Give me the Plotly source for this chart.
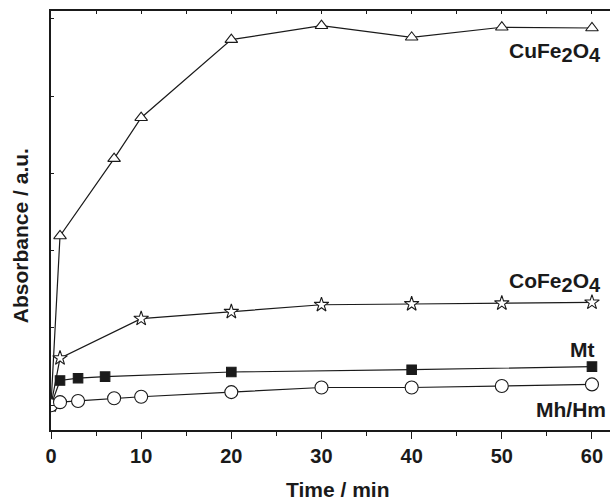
import plotly.graph_objects as go

# ---- data ----
t_cu = [0, 1, 7, 10, 20, 30, 40, 50, 60]
a_cu = [0.0, 0.219, 0.319, 0.372, 0.473, 0.491, 0.476, 0.489, 0.488]

t_co = [0, 1, 10, 20, 30, 40, 50, 60]
a_co = [0.0, 0.061, 0.112, 0.121, 0.130, 0.131, 0.132, 0.133]

t_mt = [0, 1, 3, 6, 20, 40, 60]
a_mt = [0.0, 0.032, 0.035, 0.037, 0.043, 0.046, 0.050]

t_mh = [0, 1, 3, 7, 10, 20, 30, 40, 50, 60]
a_mh = [0.0, 0.004, 0.0056, 0.009, 0.011, 0.017, 0.023, 0.023, 0.025, 0.027]

x_ticks = [0, 10, 20, 30, 40, 50, 60]
y_ticks = [0, 0.1, 0.2, 0.3, 0.4, 0.5]

FONT = "Liberation Sans, Arial, sans-serif"
INK = "#1a1a1a"
LW = 1.2

fig = go.Figure()

def add(t, a, symbol, size, fill):
    fig.add_trace(go.Scatter(
        x=t, y=a, mode="lines+markers",
        line=dict(color=INK, width=LW),
        marker=dict(symbol=symbol, size=size, color=fill,
                    line=dict(color=INK, width=1.1)),
        showlegend=False,
    ))

add(t_cu, a_cu, "triangle-up", 11, "white")
add(t_co, a_co, "star", 11, "white")
add(t_mt, a_mt, "square", 9.5, INK)
add(t_mh, a_mh, "circle", 13, "white")

xr = [0, 62]
yr = [-0.032, 0.510]

fig.update_layout(
    width=610, height=500,
    margin=dict(l=51, r=0, t=11, b=70),
    paper_bgcolor="white", plot_bgcolor="white",
    font=dict(family=FONT, color=INK),
    xaxis=dict(
        range=xr, showgrid=False, zeroline=False,
        showline=True, linecolor=INK, linewidth=1.5,
        tickmode="array", tickvals=x_ticks,
        ticks="outside", ticklen=7, tickwidth=1.3, tickcolor=INK,
        minor=dict(dtick=5, ticks="outside", ticklen=4, tickwidth=1.2, tickcolor=INK),
        tickfont=dict(family=FONT, size=20, color=INK, weight="bold"),
    ),
    xaxis2=dict(
        range=xr, overlaying="x", side="top", showgrid=False, zeroline=False,
        showline=True, linecolor=INK, linewidth=1.5,
        dtick=5, tick0=0, ticks="inside", ticklen=3, tickwidth=1, tickcolor=INK,
        showticklabels=False,
    ),
    yaxis=dict(
        range=yr, showgrid=False, zeroline=False,
        showline=True, linecolor=INK, linewidth=1.5,
        tickmode="array", tickvals=y_ticks,
        ticks="inside", ticklen=3, tickwidth=1, tickcolor=INK,
        showticklabels=False,
    ),
)

# dummy trace for the top axis
fig.add_trace(go.Scatter(x=[None], y=[None], xaxis="x2", showlegend=False, hoverinfo="skip"))

label_font = dict(family=FONT, size=21, color=INK, weight="bold")

fig.add_annotation(text="Time / min", xref="paper", yref="paper",
                   x=0.5125, y=-0.143, xanchor="center", yanchor="middle",
                   showarrow=False, font=label_font)
fig.add_annotation(text="Absorbance / a.u.", xref="paper", yref="paper",
                   x=-0.0555, y=0.465, xanchor="center", yanchor="middle",
                   textangle=-90, showarrow=False, font=label_font)

def lab(text, xr_px, ymid_px):
    fig.add_annotation(text=text, xref="paper", yref="paper",
                       x=(xr_px - 51) / 559, y=(430 - ymid_px) / 419,
                       xanchor="right", yanchor="middle",
                       showarrow=False, font=label_font)

SUB = '<sub><span style="font-size:20px">{}</span></sub>'
formula_cu = "CuFe" + SUB.format("2") + "O" + SUB.format("4")
formula_co = "CoFe" + SUB.format("2") + "O" + SUB.format("4")

lab(formula_cu, 603, 52)
lab(formula_co, 603, 282)
lab("Mt", 597, 349)
lab("Mh/Hm", 608, 409)

fig.write_html("out.html", config={"displayModeBar": False},
               post_script="document.body.style.margin='0px';document.body.style.padding='0px';")
